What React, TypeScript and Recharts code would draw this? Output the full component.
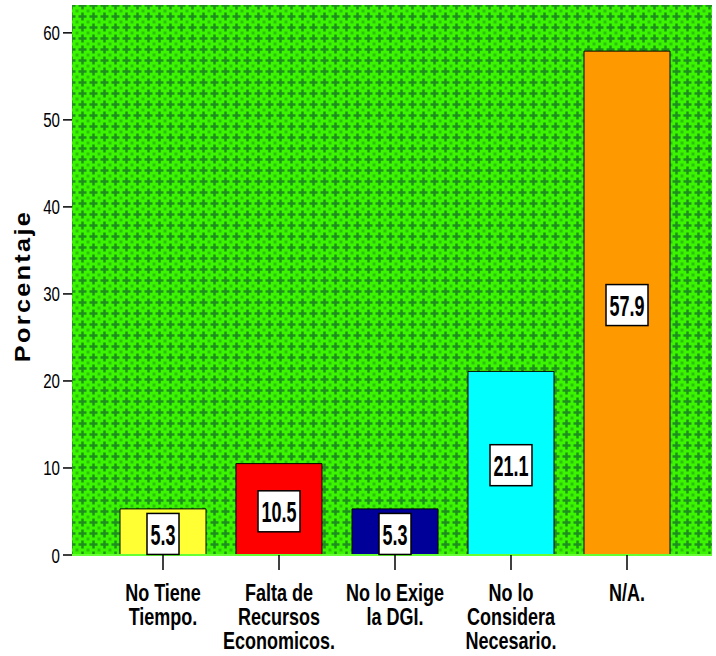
import { Bar, BarChart, CartesianGrid, Cell, LabelList, XAxis, YAxis } from "recharts";

// values
const categories = [
    ["No Tiene", "Tiempo."],
    ["Falta de", "Recursos", "Economicos."],
    ["No lo Exige", "la DGI."],
    ["No lo", "Considera", "Necesario."],
    ["N/A."],
];
const percentages = [5.3, 10.5, 5.3, 21.1, 57.9];
const barColors = ["#ffff33", "#ff0000", "#000099", "#00ffff", "#ff9900"];
const yTicks = [0, 10, 20, 30, 40, 50, 60];
const yTitle = "Porcentaje";

const data = categories.map((lines, i) => ({
    name: lines.join(" "),
    value: percentages[i],
}));

const SANS = "'Liberation Sans', Arial, sans-serif";

// narrow text: squeeze a normal sans horizontally
function NarrowText({ x, y, sx, size, bold, anchor, children }: any) {
    return (
        <text
            transform={`translate(${x},${y}) scale(${sx},1)`}
            textAnchor={anchor}
            fontFamily={SANS}
            fontWeight={bold ? "bold" : "normal"}
            fontSize={size}
            fill="#000"
        >
            {children}
        </text>
    );
}

function CategoryTick(props: any) {
    const { x, y, index } = props;
    const lines = categories[index] || [];
    return (
        <g>
            {lines.map((line, i) => (
                <NarrowText key={i} x={x} y={y + 29 + i * 24} sx={0.75} size={24} bold anchor="middle">
                    {line}
                </NarrowText>
            ))}
        </g>
    );
}

function ValueTick(props: any) {
    const { x, y, payload } = props;
    return (
        <NarrowText x={x - 1} y={y + 7.5} sx={0.72} size={21} anchor="end">
            {payload.value}
        </NarrowText>
    );
}

function ValueBox(props: any) {
    const { x, y, width, height, value } = props;
    const w = String(value).length > 3 ? 42 : 32;
    const h = 41;
    const base = y + height;
    let cy = y + height / 2 + 2;
    if (cy + h / 2 > base + 2) cy = base + 2 - h / 2;
    const cx = x + width / 2;
    return (
        <g>
            <rect x={cx - w / 2} y={cy - h / 2} width={w} height={h} fill="#fff" stroke="#000" strokeWidth={1.5} />
            <NarrowText x={cx} y={cy + 11} sx={0.6} size={30} bold anchor="middle">
                {value}
            </NarrowText>
        </g>
    );
}

function YTitle(props: any) {
    const vb = props.viewBox || {};
    const cy = (vb.y || 0) + (vb.height || 0) / 2;
    return (
        <text
            transform={`translate(30,${cy + 6}) rotate(-90) scale(1.15,1)`}
            textAnchor="middle"
            fontFamily={SANS}
            fontWeight="bold"
            fontSize={22}
            letterSpacing={2}
            fill="#000"
        >
            {yTitle}
        </text>
    );
}

export default function App() {
    return (
        <div style={{ position: "absolute", left: 0, top: 0, width: 716, height: 656, background: "#fff" }}>
            <BarChart
                width={716}
                height={656}
                data={data}
                margin={{ top: 5, right: 4, left: 0, bottom: 0 }}
                barSize={86}
            >
                <defs>
                    <pattern id="greenPat" width="11" height="11" patternUnits="userSpaceOnUse">
                        <rect width="11" height="11" fill="#3cf500" />
                        <rect x="-1.5" y="-1.5" width="3" height="3" fill="#2cbf12" />
                        <rect x="9.5" y="-1.5" width="3" height="3" fill="#2cbf12" />
                        <rect x="-1.5" y="9.5" width="3" height="3" fill="#2cbf12" />
                        <rect x="9.5" y="9.5" width="3" height="3" fill="#2cbf12" />
                        <path d="M5.5 1.5 V9.5 M1.5 5.5 H9.5" stroke="#1e8f1e" strokeWidth="2.5" />
                    </pattern>
                </defs>
                <CartesianGrid horizontal={false} vertical={false} fill="url(#greenPat)" stroke="none" />
                <XAxis
                    dataKey="name"
                    interval={0}
                    height={101}
                    padding={{ left: 33, right: 27 }}
                    axisLine={{ stroke: "#66ff33", strokeWidth: 2 }}
                    tickLine={{ stroke: "#000", strokeWidth: 1.5 }}
                    tickSize={15}
                    tick={<CategoryTick />}
                />
                <YAxis
                    width={72}
                    domain={[0, 63.2]}
                    ticks={yTicks}
                    interval={0}
                    axisLine={false}
                    tickLine={{ stroke: "#000", strokeWidth: 1.5 }}
                    tickSize={9}
                    tick={<ValueTick />}
                    label={<YTitle />}
                />
                <Bar dataKey="value" stroke="#000" strokeWidth={1} isAnimationActive={false}>
                    {data.map((_, i) => (
                        <Cell key={i} fill={barColors[i]} />
                    ))}
                    <LabelList dataKey="value" content={<ValueBox />} />
                </Bar>
            </BarChart>
        </div>
    );
}
